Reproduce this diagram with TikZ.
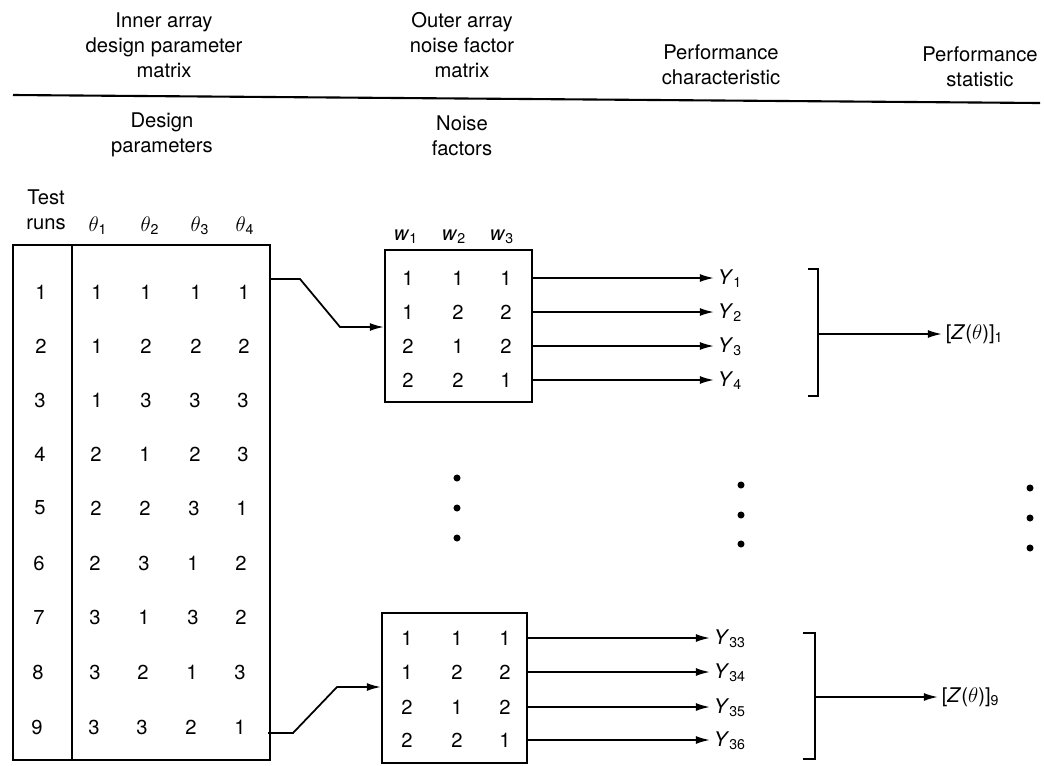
\documentclass[tikz,border=0pt]{standalone}
\usepackage{fontspec}
\setmainfont{TeX Gyre Heros}
\usetikzlibrary{arrows.meta, positioning}
\newcommand{\vY}[1]{\textit{Y}\textsubscript{#1}}
\newcommand{\vw}[1]{\textit{w}\textsubscript{#1}}
\newcommand{\vZ}[1]{[\textit{Z}($\theta$)]\textsubscript{#1}}
\newcommand{\vth}[1]{{\fontsize{13}{15}\selectfont$\theta$}\textsubscript{#1}}

\begin{document}
\begin{tikzpicture}[x=0.02cm, y=-0.02cm,
    every node/.style={font=\fontsize{11.5}{14.2}\selectfont, inner sep=1pt},
    hd/.style={align=center},
    frame/.style={line width=1.2pt},
    box/.style={draw, line width=1.2pt, inner sep=0pt},
    feed/.style={line width=1pt, -{Latex[length=8pt,width=4.5pt]}},
    ylab/.style={anchor=west, inner sep=2pt},
    vdot/.style={circle, fill=black, inner sep=0pt, minimum size=4pt}
  ]
    \useasboundingbox (0,0) rectangle (1044,765);
    % headings
    \node[hd] (inner) at (164,45) {Inner array\\design parameter\\matrix};
    \node[hd] (outer) at (462,45) {Outer array\\noise factor\\matrix};
    \node[hd] (pchar) at (721,65) {Performance\\characteristic};
    \node[hd] (pstat) at (980,67) {Performance\\statistic};
    \draw[line width=1.2pt] (13,95) -- (1040,103);
    \node[hd] (dpar) at (162,135) {Design\\parameters};
    \node[hd] (nfac) at (462,136) {Noise\\factors};
    \node[hd] (runs) at (46,210) {Test\\runs};
    \node (t1) at (98,226) {\vth{1}};
    \node (t2) at (150,226) {\vth{2}};
    \node (t3) at (200,226) {\vth{3}};
    \node (t4) at (245,226) {\vth{4}};
    \node (w1) at (406,237) {\vw{1}};
    \node (w2) at (454,237) {\vw{2}};
    \node (w3) at (502,237) {\vw{3}};
    % inner array
    \node[box, minimum width=5.14cm, minimum height=10.3cm] (inarr) at (141.5,502.5) {};
    \draw[frame] (72,245) -- (72,760);
    \node (r1) at (41,292) {1}; \node (p11) at (97,292) {1}; \node (p12) at (146,292) {1}; \node (p13) at (196,292) {1}; \node (p14) at (244,292) {1};
    \node (r2) at (41,346) {2}; \node (p21) at (97,346) {1}; \node (p22) at (146,346) {2}; \node (p23) at (196,346) {2}; \node (p24) at (244,346) {2};
    \node (r3) at (40,400) {3}; \node (p31) at (97,400) {1}; \node (p32) at (146,400) {3}; \node (p33) at (195,400) {3}; \node (p34) at (243,400) {3};
    \node (r4) at (40,454) {4}; \node (p41) at (96,454) {2}; \node (p42) at (145,454) {1}; \node (p43) at (195,454) {2}; \node (p44) at (243,454) {3};
    \node (r5) at (40,508) {5}; \node (p51) at (96,508) {2}; \node (p52) at (145,508) {2}; \node (p53) at (194,508) {3}; \node (p54) at (242,508) {1};
    \node (r6) at (39,563) {6}; \node (p61) at (95,563) {2}; \node (p62) at (144,563) {3}; \node (p63) at (193,563) {1}; \node (p64) at (241,563) {2};
    \node (r7) at (39,617) {7}; \node (p71) at (95,617) {3}; \node (p72) at (144,617) {1}; \node (p73) at (193,617) {3}; \node (p74) at (241,617) {2};
    \node (r8) at (38,672) {8}; \node (p81) at (95,672) {3}; \node (p82) at (143,672) {2}; \node (p83) at (192,672) {1}; \node (p84) at (240,672) {3};
    \node (r9) at (37,727) {9}; \node (p91) at (94,727) {3}; \node (p92) at (142,727) {3}; \node (p93) at (191,727) {2}; \node (p94) at (240,727) {1};
    % outer array, run 1
    \node[box, minimum width=2.94cm, minimum height=3.04cm] (ob1) at (458.5,326) {};
    \node (a11) at (408,278) {1}; \node (a12) at (458,278) {1}; \node (a13) at (506,278) {1};
    \node (a21) at (408,312) {1}; \node (a22) at (458,312) {2}; \node (a23) at (506,312) {2};
    \node (a31) at (408,346) {2}; \node (a32) at (458,346) {1}; \node (a33) at (506,346) {2};
    \node (a41) at (408,380) {2}; \node (a42) at (458,380) {2}; \node (a43) at (506,380) {1};
    % outer array, run 9
    \node[box, minimum width=2.9cm, minimum height=3.0cm] (ob9) at (454.5,688) {};
    \node (b11) at (407,638) {1}; \node (b12) at (457,638) {1}; \node (b13) at (505,638) {1};
    \node (b21) at (407,672) {1}; \node (b22) at (457,672) {2}; \node (b23) at (505,672) {2};
    \node (b31) at (407,707) {2}; \node (b32) at (457,707) {1}; \node (b33) at (505,707) {2};
    \node (b41) at (407,740) {2}; \node (b42) at (457,740) {2}; \node (b43) at (505,740) {1};
    % links from the inner array
    \coordinate (k1) at (270,279);
    \coordinate (k2) at (340,327);
    \draw[feed] (k1) -- ++(30,0) -- (k2) -- (k2 -| ob1.west);
    \coordinate (k9) at (268,733);
    \coordinate (k10) at (337,687);
    \draw[feed] (k9) -- ++(25,0) -- (k10) -- (k10 -| ob9.west);
    % performance characteristic
    \node[ylab] (y1) at (714,279) {\vY{1}};
    \node[ylab] (y2) at (714,313) {\vY{2}};
    \node[ylab] (y3) at (714,347) {\vY{3}};
    \node[ylab] (y4) at (714,381) {\vY{4}};
    \draw[feed] (a13 -| ob1.east) -- (a13 -| y1.west);
    \draw[feed] (a23 -| ob1.east) -- (a23 -| y2.west);
    \draw[feed] (a33 -| ob1.east) -- (a33 -| y3.west);
    \draw[feed] (a43 -| ob1.east) -- (a43 -| y4.west);
    \node[ylab] (y33) at (710,639) {\vY{33}};
    \node[ylab] (y34) at (710,673) {\vY{34}};
    \node[ylab] (y35) at (710,708) {\vY{35}};
    \node[ylab] (y36) at (710,741) {\vY{36}};
    \draw[feed] (b13 -| ob9.east) -- (b13 -| y33.west);
    \draw[feed] (b23 -| ob9.east) -- (b23 -| y34.west);
    \draw[feed] (b33 -| ob9.east) -- (b33 -| y35.west);
    \draw[feed] (b43 -| ob9.east) -- (b43 -| y36.west);
    % performance statistic
    \draw[frame] (808,269) -- (818,269) -- (818,396) -- (808,396);
    \coordinate (g1) at (818,334);
    \node[ylab] (z1) at (942,334) {\vZ{1}};
    \draw[feed] (g1) -- (g1 -| z1.west);
    \draw[frame] (803,633) -- (815,633) -- (815,759) -- (803,759);
    \coordinate (g9) at (815,697);
    \node[ylab] (z9) at (938,697) {\vZ{9}};
    \draw[feed] (g9) -- (g9 -| z9.west);
    % ellipsis dots
    \node[vdot] (e1) at (457,478) {};
    \node[vdot] (e2) at (457,508) {};
    \node[vdot] (e3) at (457,538) {};
    \node[vdot] (f1) at (741,485) {};
    \node[vdot] (f2) at (741,515) {};
    \node[vdot] (f3) at (741,544) {};
    \node[vdot] (h1) at (1030,488) {};
    \node[vdot] (h2) at (1030,518) {};
    \node[vdot] (h3) at (1030,548) {};
  \end{tikzpicture}
\end{document}
